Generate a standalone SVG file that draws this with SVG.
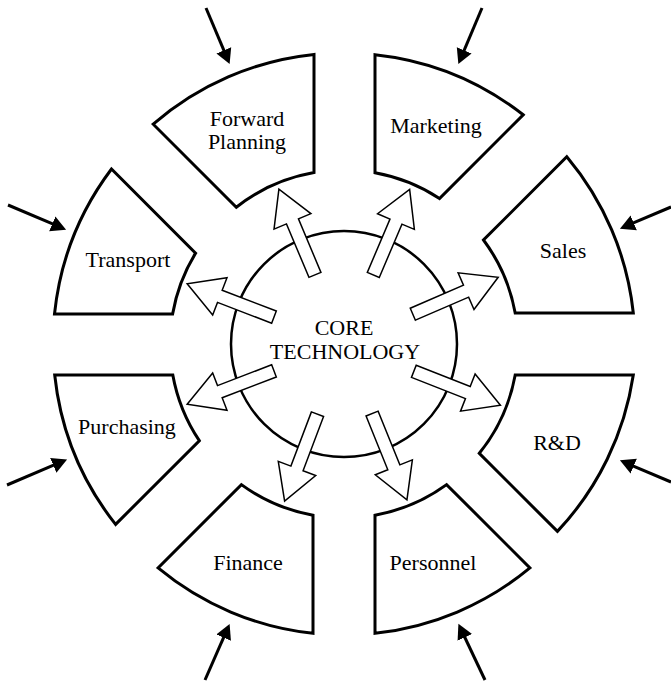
<svg xmlns="http://www.w3.org/2000/svg" xmlns:xlink="http://www.w3.org/1999/xlink" width="671" height="682" viewBox="0 0 671 682">
<style>
.seg{fill:#fff;stroke:#000;stroke-width:3;stroke-linejoin:miter}
.core{fill:#fff;stroke:#000;stroke-width:2.5}
.hollow{fill:#fff;stroke:#000;stroke-width:1.5;stroke-linejoin:miter}
.solid{fill:none;stroke:#000;stroke-width:3}
text{font-family:"Liberation Serif","Times New Roman",serif;font-size:22px;fill:#000;text-anchor:middle}
</style>
<defs>
<marker id="ah" markerUnits="userSpaceOnUse" markerWidth="16" markerHeight="18" viewBox="0 -9 16 18" refX="1" refY="0" orient="auto">
<path d="M0,-8 L15,0 L0,8 Z" fill="#000"/>
</marker>
<polygon id="ha" points="350.5,269 350.5,211 364,211 344,176 324,211 337.5,211 337.5,269"/>
</defs>
<rect width="671" height="682" fill="#fff"/>
<g id="forward-planning">
<path class="seg" d="M314,54.5 A291,291 0 0 0 153.2,124.2 L236.3,207.3 A174,174 0 0 1 314,172.6 Z"/>
<text x="247" y="126">Forward</text>
<text x="247" y="149">Planning</text>
</g>
<g id="marketing">
<path class="seg" d="M375,54.7 A291,291 0 0 1 523.2,114.8 L439.5,198.5 A174,174 0 0 0 375,172.8 Z"/>
<text x="436" y="133">Marketing</text>
</g>
<g id="sales">
<path class="seg" d="M633.3,313 A291,291 0 0 0 566.8,156.7 L483.5,240 A174,174 0 0 1 515.2,313 Z"/>
<text x="563" y="258">Sales</text>
</g>
<g id="transport">
<path class="seg" d="M54.5,314 A291,291 0 0 1 111.5,169 L195.6,253.1 A174,174 0 0 0 172.6,314 Z"/>
<text x="128" y="267">Transport</text>
</g>
<g id="purchasing">
<path class="seg" d="M54.7,375 A291,291 0 0 0 115.6,524.4 L199.3,440.7 A174,174 0 0 1 172.8,375 Z"/>
<text x="127" y="434">Purchasing</text>
</g>
<g id="rnd">
<path class="seg" d="M633.3,375 A291,291 0 0 1 557.4,531.4 L479.3,453.3 A174,174 0 0 0 515.2,375 Z"/>
<text x="557" y="450">R&amp;D</text>
</g>
<g id="finance">
<path class="seg" d="M313,633.3 A291,291 0 0 1 158.1,567.9 L241.4,484.6 A174,174 0 0 0 313,515.2 Z"/>
<text x="248" y="570">Finance</text>
</g>
<g id="personnel">
<path class="seg" d="M375,633.3 A291,291 0 0 0 529.9,567.9 L446.6,484.6 A174,174 0 0 1 375,515.2 Z"/>
<text x="433" y="570">Personnel</text>
</g>
<g id="core-technology">
<circle class="core" cx="344" cy="344" r="113"/>
</g>
<g id="connectors">
<use xlink:href="#ha" class="hollow" transform="rotate(-22.8 344 344)"/>
<use xlink:href="#ha" class="hollow" transform="rotate(23 344 344)"/>
<use xlink:href="#ha" class="hollow" transform="rotate(66.6 344 344)"/>
<use xlink:href="#ha" class="hollow" transform="rotate(-69 344 344)"/>
<use xlink:href="#ha" class="hollow" transform="rotate(249 344 344)"/>
<use xlink:href="#ha" class="hollow" transform="rotate(111.4 344 344)"/>
<use xlink:href="#ha" class="hollow" transform="rotate(200.7 344 344)"/>
<use xlink:href="#ha" class="hollow" transform="rotate(158 344 344)"/>
<line class="solid" x1="206" y1="8" x2="224.2" y2="51.2" marker-end="url(#ah)"/>
<line class="solid" x1="482" y1="8" x2="463.8" y2="51.2" marker-end="url(#ah)"/>
<line class="solid" x1="8" y1="205" x2="53.2" y2="224.2" marker-end="url(#ah)"/>
<line class="solid" x1="671" y1="207" x2="632.8" y2="223.2" marker-end="url(#ah)"/>
<line class="solid" x1="7" y1="485" x2="54.2" y2="464.9" marker-end="url(#ah)"/>
<line class="solid" x1="671" y1="482" x2="632.8" y2="465.8" marker-end="url(#ah)"/>
<line class="solid" x1="205" y1="680" x2="224" y2="636.7" marker-end="url(#ah)"/>
<line class="solid" x1="485" y1="680" x2="464.4" y2="636.5" marker-end="url(#ah)"/>
</g>
<g id="core-label">
<text x="344" y="335">CORE</text>
<text x="345" y="359">TECHNOLOGY</text>
</g>
</svg>
